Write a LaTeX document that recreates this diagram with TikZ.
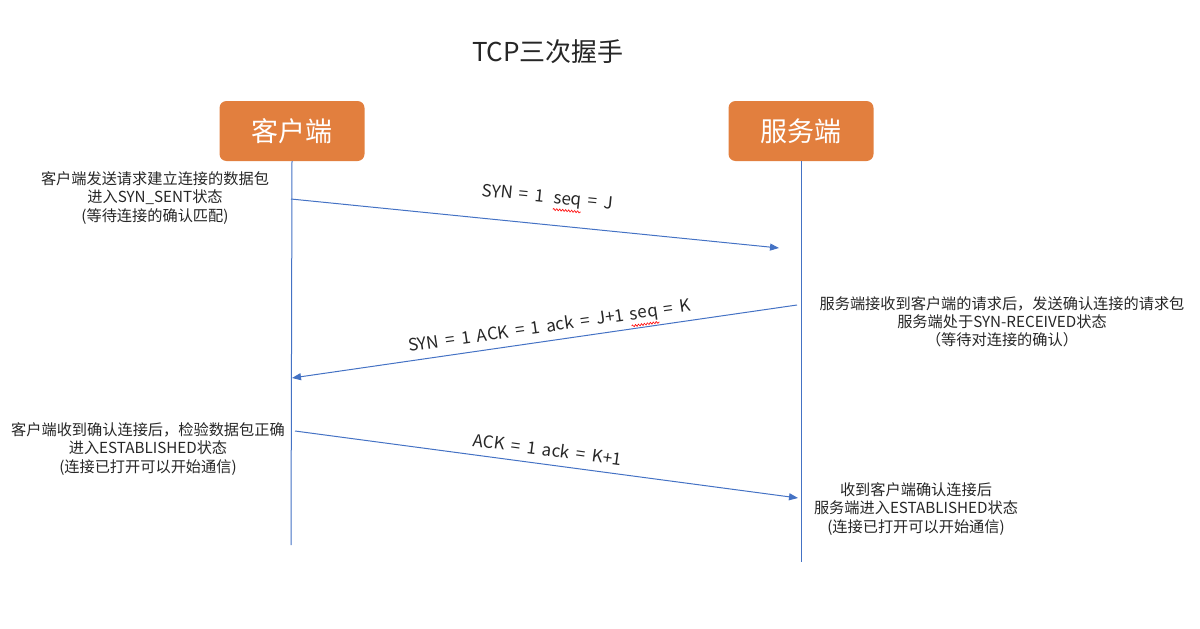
\documentclass[tikz,border=0pt]{standalone}
\usepackage{fontspec}
\setmainfont{Noto Sans CJK SC}
\newfontfamily\lblfont[WordSpace=1.7]{Noto Sans CJK SC}
\usetikzlibrary{arrows.meta,decorations.pathmorphing}
\definecolor{boxorange}{HTML}{E27F3E}
\definecolor{lineblue}{HTML}{4472C4}
\definecolor{txt}{HTML}{262626}
\begin{document}
\begin{tikzpicture}[x=1pt,y=-1pt,
  actor/.style={fill=boxorange,rounded corners=7pt,minimum width=145pt,minimum height=60pt,text=white,font=\fontsize{27}{30}\selectfont,inner sep=0pt},
  life/.style={lineblue,line width=1pt},
  msg/.style={lineblue,line width=1pt,-{Triangle[length=9pt,width=7pt]}},
  note/.style={align=center,text=txt,font=\fontsize{15.2}{18.2}\selectfont,inner sep=0pt},
  lbl/.style={text=txt,font=\lblfont\fontsize{17}{19}\selectfont,inner sep=0pt,anchor=base west,transform shape},
  wavy/.style={red,line width=0.6pt,decorate,decoration={snake,amplitude=1pt,segment length=3pt}}]
\useasboundingbox (0,0) rectangle (1200,629);
\node[text=txt,font=\fontsize{26}{30}\selectfont] (title) at (548,52) {TCP三次握手};
\node[actor] (client) at (292,131) {客户端};
\node[actor] (server) at (801,131) {服务端};
\coordinate (cend) at (291,545);
\coordinate (send) at (801,562);
\draw[life] (client.south) -- (cend);
\draw[life] (server.south) -- (send);
% message 1
\coordinate (m1a) at (291,199);
\coordinate (m1b) at (779,248);
\draw[msg] (m1a) -- (m1b);
\begin{scope}[shift={(481,196)},rotate=-5.7]
  \node[lbl] (l1a) at (0,0) {SYN = 1\hspace{0.55em}\mbox{}};
  \node[lbl] (l1b) at (l1a.base east) {seq};
  \node[lbl] (l1c) at (l1b.base east) {\hspace{0.35em}= J};
  \draw[wavy] ([yshift=-2pt]l1b.south west) -- ([yshift=-2pt]l1b.south east);
\end{scope}
% message 2
\coordinate (m2a) at (797,305);
\coordinate (m2b) at (292,378);
\draw[msg] (m2a) -- (m2b);
\begin{scope}[shift={(409,352)},rotate=8.2]
  \node[lbl] (l2a) at (0,0) {SYN = 1 ACK = 1 ack = J+1\hspace{0.35em}\mbox{}};
  \node[lbl] (l2b) at (l2a.base east) {seq};
  \node[lbl] (l2c) at (l2b.base east) {\hspace{0.35em}= K};
  \draw[wavy] ([yshift=-2pt]l2b.south west) -- ([yshift=-2pt]l2b.south east);
\end{scope}
% message 3
\coordinate (m3a) at (295,431);
\coordinate (m3b) at (798,498);
\draw[msg] (m3a) -- (m3b);
\begin{scope}[shift={(472,446)},rotate=-7.6]
  \node[lbl] (l3a) at (0,0) {ACK = 1 ack = K+1};
\end{scope}
% notes
\node[note] (n1) at (155,198) {客户端发送请求建立连接的数据包\\进入SYN\_SENT状态\\(等待连接的确认匹配)};
\node[note] (n2) at (1002,322) {服务端接收到客户端的请求后，发送确认连接的请求包\\服务端处于SYN-RECEIVED状态\\（等待对连接的确认）};
\node[note] (n3) at (148,449) {客户端收到确认连接后，检验数据包正确\\进入ESTABLISHED状态\\(连接已打开可以开始通信)};
\node[note] (n4) at (916,509) {收到客户端确认连接后\\服务端进入ESTABLISHED状态\\(连接已打开可以开始通信)};
\end{tikzpicture}
\end{document}
